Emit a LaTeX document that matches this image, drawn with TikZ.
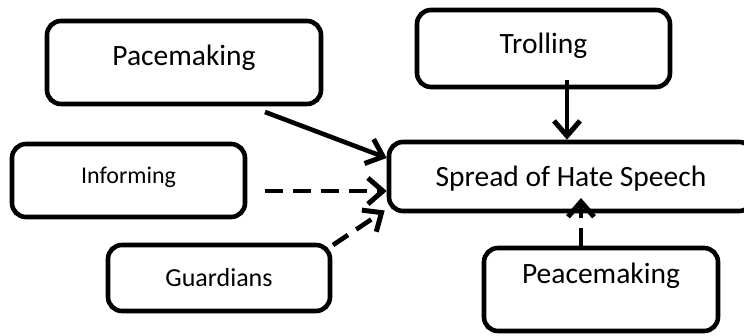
\documentclass[tikz,border=0pt]{standalone}
\usepackage{fontspec}
\setmainfont{Carlito}
\usetikzlibrary{arrows.meta,calc}
\begin{document}
\begin{tikzpicture}[x=1pt,y=-1pt,
  box/.style={draw, line width=4.6pt, rounded corners=14pt, inner sep=0pt, align=center},
  big/.style={font=\fontsize{29.5}{32}\selectfont},
  arr/.style={line width=4.6pt, -{Straight Barb[length=15pt,width=26pt,line width=5pt]}},
  darr/.style={arr, dash pattern=on 18pt off 10pt}]
\useasboundingbox (0,0) rectangle (744,336);
\node[box, big, minimum width=274pt, minimum height=83pt, text height=5.6pt, text depth=0pt] (pace) at (184,62.5) {Pacemaking};
\node[box, font=\fontsize{24}{26}\selectfont, minimum width=233pt, minimum height=73pt, text height=5.8pt, text depth=0pt] (inform) at (128.5,180.5) {Informing};
\node[box, font=\fontsize{26}{28}\selectfont, minimum width=222pt, minimum height=66pt, text height=17.4pt, text depth=0pt] (guard) at (219,278) {Guardians};
\node[box, big, minimum width=364pt, minimum height=69pt, text height=19.6pt, text depth=0pt] (spread) at (571,176.5) {Spread of Hate Speech};
\node[box, big, minimum width=253pt, minimum height=77pt, text height=9.6pt, text depth=0pt] (troll) at (543.5,48.5) {Trolling};
\node[box, big, minimum width=234pt, minimum height=83pt, text height=0pt, text depth=12.4pt] (peace) at (601,289.5) {Peacemaking};
\coordinate (a1) at (265,112);
\coordinate (a2) at (265,191);
\coordinate (a3) at (333,245);
\coordinate (t1) at (567,80);
\coordinate (p1) at (581,246);
\draw[arr] (a1) -- ([yshift=18.5pt]spread.west);
\draw[darr] (a2) -- ([yshift=-14.5pt]spread.west);
\draw[darr] (a3) -- ($(spread.west)+(-2,34)$);
\draw[arr] (t1) -- (t1 |- spread.north);
\draw[darr] (p1) -- ($(p1 |- spread.center)+(0,21.5)$);
\end{tikzpicture}
\end{document}
